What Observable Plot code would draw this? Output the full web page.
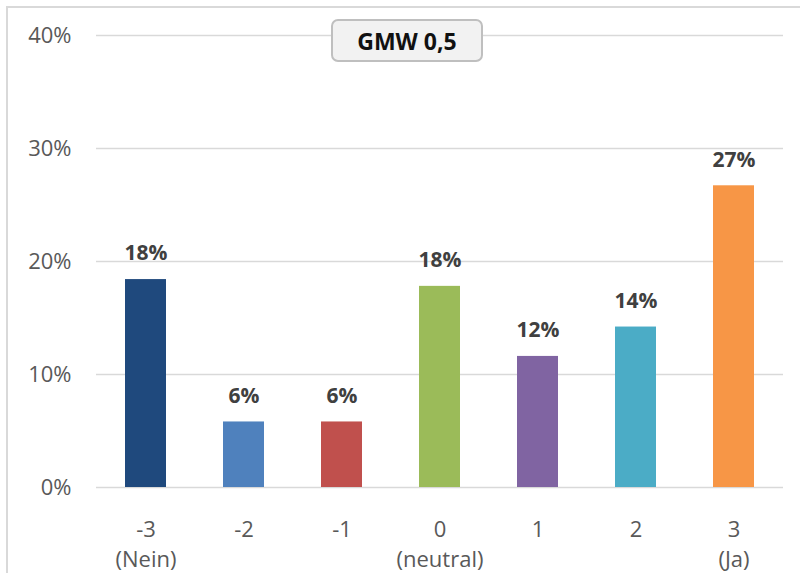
<!DOCTYPE html>
<html>
<head>
<meta charset="utf-8">
<script src="https://cdn.jsdelivr.net/npm/d3@7"></script>
<script src="https://cdn.jsdelivr.net/npm/@observablehq/plot@0.6"></script>
<style>
  html, body { margin: 0; padding: 0; background: #fff; }
  #wrap { position: relative; width: 800px; height: 573px; overflow: hidden; font-family: "Open Sans", sans-serif; }
  #frame { position: absolute; left: 6px; top: 6px; width: 820px; height: 600px; border-left: 2px solid #d9d9d9; border-top: 2px solid #d9d9d9; box-sizing: border-box; }
  #chart { position: absolute; left: 0; top: 0; }
  #title { position: absolute; left: 331px; top: 19px; width: 152px; height: 43px; box-sizing: border-box;
    border: 2.5px solid #bfbfbf; border-radius: 7px; background: #f2f2f2;
    font: bold 23px "Open Sans", sans-serif; color: #111; display: flex; align-items: center; justify-content: center; }
</style>
</head>
<body>
<div id="wrap">
  <div id="frame"></div>
  <div id="chart"></div>
  <div id="title">GMW 0,5</div>
</div>
<script>
const categories = ["-3", "-2", "-1", "0", "1", "2", "3"];
const tickLabels = ["-3\n(Nein)", "-2", "-1", "0\n(neutral)", "1", "2", "3\n(Ja)"];
const values = [18.4, 5.8, 5.8, 17.8, 11.6, 14.2, 26.7];
const colors = ["#1F497D", "#4F81BD", "#C0504D", "#9BBB59", "#8064A2", "#4BACC6", "#F79646"];
const yTicks = [0, 10, 20, 30, 40];

const data = categories.map((c, i) => ({cat: c, value: values[i], color: colors[i], label: Math.round(values[i]) + "%"}));
const labelOf = new Map(categories.map((c, i) => [c, tickLabels[i]]));

const chart = Plot.plot({
  width: 800,
  height: 573,
  marginLeft: 96,
  marginRight: 17,
  marginTop: 35,
  marginBottom: 86,
  style: {fontFamily: "'Open Sans', sans-serif", background: "transparent", overflow: "visible"},
  x: {type: "band", domain: categories, paddingInner: 0.58, paddingOuter: 0.29, label: null},
  y: {domain: [0, 40], label: null},
  marks: [
    Plot.gridY(yTicks, {stroke: "#d9d9d9", strokeOpacity: 1, strokeWidth: 1.3}),
    Plot.barY(data, {x: "cat", y: "value", fill: "color"}),
    Plot.text(data, {x: "cat", y: "value", text: "label", dy: -26, fontSize: 21, fontWeight: "bold", fill: "#404040"}),
    Plot.axisY(yTicks, {tickSize: 0, tickPadding: 25, tickFormat: d => d + "%", fontSize: 22, fill: "#595959", label: null}),
    Plot.axisX({tickSize: 0, tickPadding: 28, tickFormat: d => labelOf.get(d), fontSize: 22, fill: "#595959", lineHeight: 1.36, label: null})
  ]
});
document.getElementById("chart").appendChild(chart);
</script>
</body>
</html>
